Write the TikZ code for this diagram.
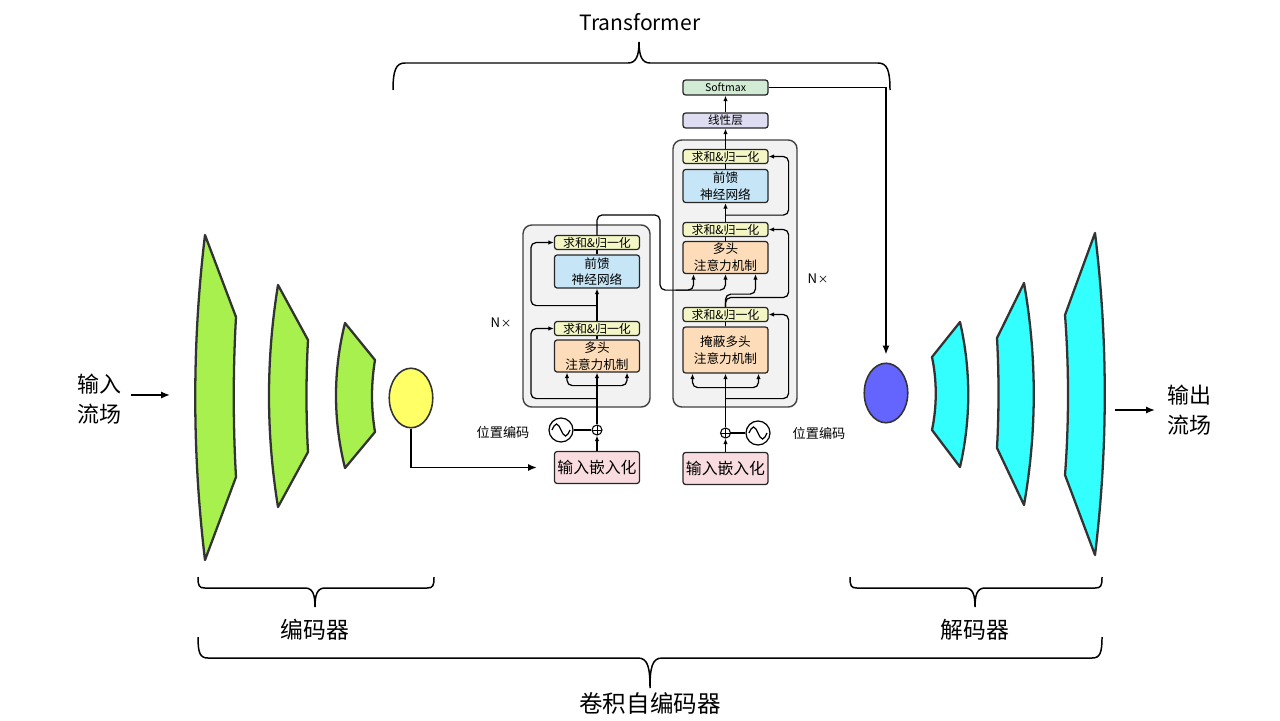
\documentclass[tikz,border=0pt]{standalone}
\usepackage{fontspec}
\setmainfont{Noto Sans CJK SC}
\usetikzlibrary{arrows.meta,calc,positioning,shapes.geometric}

\definecolor{encgreen}{HTML}{A8F04E}
\definecolor{deccyan}{HTML}{33FFFF}
\definecolor{latentyel}{HTML}{FFFF66}
\definecolor{latentblue}{HTML}{6464FF}
\definecolor{normyel}{HTML}{F4F7C5}
\definecolor{ffblue}{HTML}{C6E5F6}
\definecolor{attnorange}{HTML}{FDDDB9}
\definecolor{embpink}{HTML}{F8DCE0}
\definecolor{linpurple}{HTML}{DEDDF1}
\definecolor{smgreen}{HTML}{D2EBD5}
\definecolor{stackgray}{HTML}{F2F2F2}

\tikzset{
  stackbox/.style={draw=black!75, fill=stackgray, line width=0.8pt, rounded corners=5pt},
  block/.style={draw=black!85, line width=0.7pt, rounded corners=1.5pt, inner sep=0pt,
    align=center, text width=1.7cm, minimum width=1.7cm},
  normbox/.style={block, fill=normyel, minimum height=0.28cm, font=\fontsize{6.8}{7}\selectfont},
  ffbox/.style={block, fill=ffblue, minimum height=0.66cm, font=\fontsize{7.2}{9.5}\selectfont},
  attnbox/.style={block, fill=attnorange, minimum height=0.64cm, font=\fontsize{7.2}{9.5}\selectfont},
  embbox/.style={block, fill=embpink, minimum height=0.64cm, font=\fontsize{9}{10}\selectfont},
  linbox/.style={block, fill=linpurple, minimum height=0.3cm, font=\fontsize{6.6}{7}\selectfont},
  softbox/.style={block, fill=smgreen, minimum height=0.3cm, font=\fontsize{6}{7}\selectfont},
  addcirc/.style={circle, draw, line width=0.6pt, minimum size=0.2cm, inner sep=0pt,
    path picture={\draw[line width=0.5pt] (path picture bounding box.north) -- (path picture bounding box.south)
      (path picture bounding box.west) -- (path picture bounding box.east);}},
  pecirc/.style={circle, draw, line width=0.7pt, minimum size=0.48cm, inner sep=0pt},
  flow/.style={-{Latex[length=3.2pt,width=2.6pt]}, line width=0.7pt, rounded corners=3pt},
  link/.style={line width=0.7pt, rounded corners=3pt},
  bigflow/.style={-{Latex[length=5pt,width=4pt]}, line width=0.9pt},
  conv/.style={draw=black!80, line width=1.3pt, line join=round},
  latent/.style={ellipse, draw=black!80, line width=0.9pt, minimum width=0.87cm, minimum height=1.19cm},
  bracel/.style={line width=0.85pt},
  biglbl/.style={font=\fontsize{12.5}{17}\selectfont, align=left, inner sep=1pt},
  smalllbl/.style={font=\fontsize{7.5}{9}\selectfont}
}
\newcommand{\nlayers}{N\kern0.3pt{\fontsize{6}{6}\selectfont ×}}

\begin{document}
\begin{tikzpicture}[x=0.02cm, y=-0.02cm]
\useasboundingbox (0,0) rectangle (1280,720);

% Input / output labels
\node[biglbl] (inlbl) at (99,399) {输入\\流场};
\coordinate (inpt) at (170,395);
\draw[bigflow] (inlbl.east |- inpt) ++(8,0) -- (inpt);
\node[biglbl] (outlbl) at (1189,410) {输出\\流场};
\coordinate (outpt) at (1115,410);
\draw[bigflow] (outpt) -- ($(outlbl.west)+(-10,0)$);

% Encoder (convolution)
\draw[conv, fill=encgreen] (205,235) -- (236,317) .. controls (233,370) and (233,424) .. (236,477)
  -- (205,560) .. controls (192,452) and (192,343) .. cycle;
\draw[conv, fill=encgreen] (278,285) -- (308,340) .. controls (306,377) and (306,415) .. (308,452)
  -- (278,507) .. controls (266,433) and (266,359) .. cycle;
\draw[conv, fill=encgreen] (345,323) -- (375,360) .. controls (371,384) and (371,408) .. (375,432)
  -- (345,468) .. controls (333,420) and (333,371) .. cycle;
\node[latent, fill=latentyel] (zenc) at (411,398) {};

% Decoder (convolution)
\node[latent, fill=latentblue] (zdec) at (886,393) {};
\draw[conv, fill=deccyan] (932,357) -- (960,322) .. controls (971,370) and (971,419) .. (960,467)
  -- (932,430) .. controls (937,406) and (937,381) .. cycle;
\draw[conv, fill=deccyan] (997,338) -- (1024,283) .. controls (1037,357) and (1037,431) .. (1024,505)
  -- (997,448) .. controls (999,411) and (999,375) .. cycle;
\draw[conv, fill=deccyan] (1065,315) -- (1095,233) .. controls (1108,340) and (1108,448) .. (1095,555)
  -- (1065,475) .. controls (1069,422) and (1069,368) .. cycle;

% Transformer stacks
\draw[stackbox] (523,225) rectangle (650,407);
\draw[stackbox] (673,140) rectangle (797,407);

% Transformer encoder
\node[normbox] (enorm2) at (597,242.5) {求和\&归一化};
\node[ffbox] (eff) at (597,271.5) {前馈\\神经网络};
\node[normbox] (enorm1) at (597,328.5) {求和\&归一化};
\node[attnbox] (emha) at (597,356) {多头\\注意力机制};
\node[addcirc] (eadd) at (597,430) {};
\node[pecirc] (epe) at (561,430) {};
\draw[line width=0.7pt] ($(epe)+(-9,0)$) sin ($(epe)+(-4.5,-6)$) cos (epe) sin ($(epe)+(4.5,6)$) cos ($(epe)+(9,0)$);
\node[embbox] (eemb) at (597,467.5) {输入嵌入化};
\node[smalllbl] (epelbl) at (503,432) {位置编码};
\node[smalllbl] (enx) at (501,323) {\nlayers};

\draw[flow] (eemb) -- (eadd);
\draw[link] (epe) -- (eadd);
\draw[flow] (eadd) -- (emha);
\draw[flow] ($(emha.south)+(0,13)$) -| ($(emha.south)+(-30,0)$);
\draw[flow] ($(emha.south)+(0,13)$) -| ($(emha.south)+(30,0)$);
\draw[link] (emha) -- (enorm1);
\draw[flow] ($(emha.south)+(0,26)$) -| ($(enorm1.west)+(-23,0)$) -- (enorm1.west);
\draw[flow] (enorm1) -- (eff);
\draw[link] (eff) -- (enorm2);
\draw[flow] ($(eff.south)+(0,17)$) -| ($(enorm2.west)+(-23,0)$) -- (enorm2.west);

% Transformer decoder
\node[softbox] (dsoft) at (725.5,87.5) {Softmax};
\node[linbox] (dlin) at (725.5,120.5) {线性层};
\node[normbox] (dnorm3) at (725.5,156.5) {求和\&归一化};
\node[ffbox] (dff) at (725.5,186) {前馈\\神经网络};
\node[normbox] (dnorm2) at (725.5,229.5) {求和\&归一化};
\node[attnbox] (dmha) at (725.5,257.5) {多头\\注意力机制};
\node[normbox] (dnorm1) at (725.5,314.5) {求和\&归一化};
\node[attnbox, minimum height=0.92cm] (dmmha) at (725.5,350) {掩蔽多头\\注意力机制};
\node[addcirc] (dadd) at (725.5,433) {};
\node[pecirc] (dpe) at (758,433) {};
\draw[line width=0.7pt] ($(dpe)+(-9,0)$) sin ($(dpe)+(-4.5,-6)$) cos (dpe) sin ($(dpe)+(4.5,6)$) cos ($(dpe)+(9,0)$);
\node[embbox] (demb) at (725.5,468.5) {输入嵌入化};
\node[smalllbl] (dpelbl) at (819,433) {位置编码};
\node[smalllbl] (dnx) at (818,279) {\nlayers};

\draw[flow] (demb) -- (dadd);
\draw[link] (dpe) -- (dadd);
\draw[flow] (dadd) -- (dmmha);
\draw[flow] ($(dmmha.south)+(0,14)$) -| ($(dmmha.south)+(-33,0)$);
\draw[flow] ($(dmmha.south)+(0,14)$) -| ($(dmmha.south)+(33,0)$);
\draw[link] (dmmha) -- (dnorm1);
\draw[flow] ($(dmmha.south)+(0,25)$) -| ($(dnorm1.east)+(20,0)$) -- (dnorm1.east);
\draw[flow] (dnorm1.north) |- ($(dmha.south)+(30,20)$) -- ($(dmha.south)+(30,0)$);
\draw[flow] (dnorm1.north) |- ($(dnorm2.east)+(20,68)$) |- (dnorm2.east);
\draw[link] (dmha) -- (dnorm2);
\draw[flow] (dnorm2) -- (dff);
\draw[link] (dff) -- (dnorm3);
\draw[flow] ($(dff.south)+(0,12)$) -| ($(dnorm3.east)+(20,0)$) -- (dnorm3.east);
\draw[flow] (dnorm3) -- (dlin);
\draw[flow] (dlin) -- (dsoft);

% Encoder output into decoder attention
\draw[flow] (enorm2.north) |- ($(enorm2.north)+(63,-20)$) |- ($(dmha.south)+(0,16)$) -- (dmha.south);
\draw[flow] ($(dmha.south)+(-50,16)$) -| ($(dmha.south)+(-32,0)$);

% Links between autoencoder and transformer
\draw[bigflow, rounded corners=0pt] (zenc.south) |- ($(eemb.west)+(-17,0)$);
\draw[bigflow] (dsoft.east) -| ($(zdec.north)+(0,-8)$);

% Braces
\draw[bracel] (393,90) .. controls (393,70) and (396,63) .. (405,63) -- (628,63)
  .. controls (636,63) and (639,56) .. (639,42) .. controls (639,56) and (642,63) .. (650,63)
  -- (878,63) .. controls (887,63) and (890,70) .. (890,90);
\node[font=\fontsize{12}{14}\selectfont] (tflbl) at (640,22) {Transformer};

\draw[bracel] (198,577) .. controls (198,586) and (199,588) .. (205,588) -- (305,588)
  .. controls (313,588) and (315,595) .. (315,607) .. controls (315,595) and (317,588) .. (325,588)
  -- (427,588) .. controls (433,588) and (434,586) .. (434,577);
\node[font=\fontsize{13}{15}\selectfont] (enclbl) at (315,630) {编码器};

\draw[bracel] (850,577) .. controls (850,586) and (851,588) .. (857,588) -- (965,588)
  .. controls (973,588) and (975,595) .. (975,607) .. controls (975,595) and (977,588) .. (985,588)
  -- (1095,588) .. controls (1101,588) and (1102,586) .. (1102,577);
\node[font=\fontsize{13}{15}\selectfont] (declbl) at (975,630) {解码器};

\draw[bracel] (198,637) .. controls (198,653) and (200,658) .. (208,658) -- (638,658)
  .. controls (648,658) and (650,668) .. (650,688) .. controls (650,668) and (652,658) .. (662,658)
  -- (1092,658) .. controls (1100,658) and (1102,653) .. (1102,637);
\node[font=\fontsize{13.4}{15}\selectfont] (caelbl) at (650,703) {卷积自编码器};
\end{tikzpicture}
\end{document}
